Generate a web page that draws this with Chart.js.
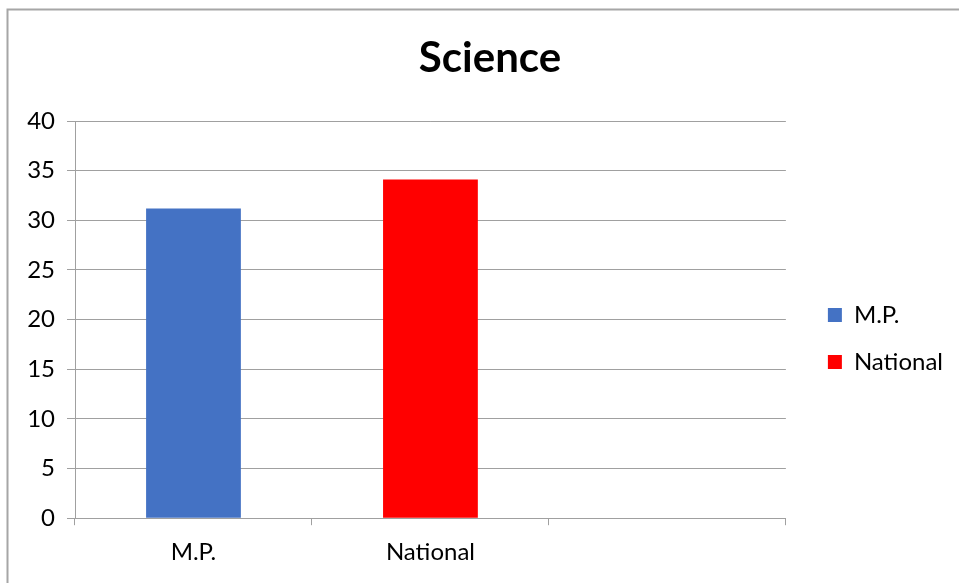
<!DOCTYPE html>
<html>
<head>
<meta charset="utf-8">
<script src="https://cdn.jsdelivr.net/npm/chart.js@4"></script>
<style>
  html, body { margin: 0; padding: 0; background: #ffffff; }
  #wrap { width: 959px; height: 583px; position: relative; }
</style>
</head>
<body>
<div id="wrap"><canvas id="c" width="959" height="583"></canvas></div>
<script>
// Science scores: M.P. against the national figure
const categories = ['M.P.', 'National', ''];
const scores = [31.2, 34.1, null];
const barColors = ['#4472C4', '#FF0000', '#A5A5A5'];
const legendNames = ['M.P.', 'National'];
const yTicks = { min: 0, max: 40, step: 5 };

const FONT = 'Lato, "Open Sans", sans-serif';
const GRID = '#A0A0A0';

// thin grey frame around the chart object (left and top edges)
const framePlugin = {
  id: 'frame',
  beforeDraw(chart) {
    const ctx = chart.ctx;
    ctx.save();
    ctx.fillStyle = '#ffffff';
    ctx.fillRect(0, 0, chart.width, chart.height);
    ctx.strokeStyle = '#A6A6A6';
    ctx.lineWidth = 2;
    ctx.beginPath();
    ctx.moveTo(7.5, chart.height);
    ctx.lineTo(7.5, 9.5);
    ctx.lineTo(chart.width, 9.5);
    ctx.stroke();
    ctx.restore();
  }
};

new Chart(document.getElementById('c'), {
  type: 'bar',
  data: {
    labels: categories,
    datasets: [{
      label: 'Science',
      data: scores,
      backgroundColor: barColors,
      borderWidth: 0,
      barPercentage: 0.4,
      categoryPercentage: 1.0
    }]
  },
  options: {
    responsive: false,
    animation: false,
    devicePixelRatio: 1,
    layout: { padding: { left: 27, right: 6, top: 0, bottom: 3 } },
    plugins: {
      title: {
        display: true,
        text: 'Science',
        color: '#000000',
        font: { family: FONT, size: 42, weight: 'bold' },
        padding: { top: 33, bottom: 37.6 }
      },
      legend: {
        display: true,
        position: 'right',
        align: 'center',
        title: { display: true, text: '', font: { size: 10, lineHeight: 1 }, padding: { top: 87, bottom: 0 } },
        labels: {
          boxWidth: 14,
          boxHeight: 14,
          padding: 23,
          color: '#000000',
          font: { family: FONT, size: 24 },
          generateLabels() {
            return legendNames.map((name, i) => ({
              text: name,
              fillStyle: barColors[i],
              strokeStyle: barColors[i],
              fontColor: '#000000',
              lineWidth: 0,
              hidden: false,
              index: i
            }));
          }
        }
      },
      tooltip: { enabled: false }
    },
    scales: {
      x: {
        grid: {
          display: true,
          offset: true,
          drawOnChartArea: false,
          drawTicks: true,
          tickLength: 7,
          color: GRID
        },
        border: { display: true, color: GRID, width: 1 },
        ticks: {
          color: '#000000',
          padding: 13,
          font: { family: FONT, size: 24 }
        }
      },
      y: {
        min: yTicks.min,
        max: yTicks.max,
        afterFit(scale) { scale.width = 48; },
        grid: { color: GRID, tickLength: 8, drawTicks: true },
        border: { display: true, color: GRID, width: 1 },
        ticks: {
          stepSize: yTicks.step,
          color: '#000000',
          padding: 12,
          font: { family: FONT, size: 24 }
        }
      },
      gap: {
        position: 'right',
        display: true,
        afterFit(scale) { scale.width = 19; },
        grid: { display: false },
        border: { display: false },
        ticks: { display: false }
      }
    }
  },
  plugins: [framePlugin]
});
</script>
</body>
</html>
